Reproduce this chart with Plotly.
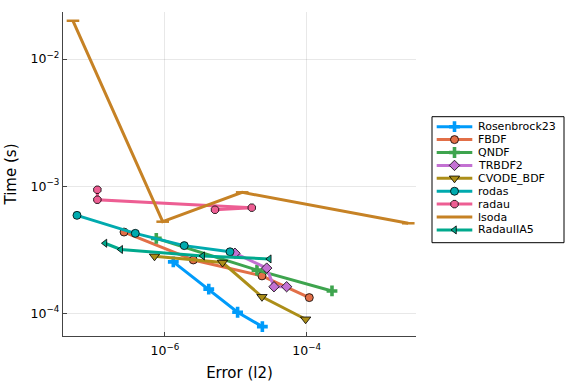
import plotly.graph_objects as go

# ---------------- data ----------------
names = ["Rosenbrock23", "FBDF", "QNDF", "TRBDF2", "CVODE_BDF",
         "rodas", "radau", "lsoda", "RadauIIA5"]

rosenbrock23_err = [1.31e-6, 4.15e-6, 1.06e-5, 2.37e-5]
rosenbrock23_time = [2.54e-4, 1.55e-4, 1.02e-4, 7.86e-5]

fbdf_err = [2.64e-7, 2.51e-6, 2.34e-5, 1.09e-4]
fbdf_time = [4.36e-4, 2.63e-4, 1.97e-4, 1.33e-4]

qndf_err = [7.54e-7, 1.99e-5, 2.28e-4]
qndf_time = [3.89e-4, 2.19e-4, 1.50e-4]

trbdf2_err = [9.73e-6, 2.73e-5, 3.46e-5, 5.22e-5]
trbdf2_time = [2.97e-4, 2.27e-4, 1.62e-4, 1.62e-4]

cvode_err = [7.11e-7, 6.49e-6, 2.34e-5, 9.68e-5]
cvode_time = [2.81e-4, 2.51e-4, 1.35e-4, 8.99e-5]

rodas_err = [5.72e-8, 3.81e-7, 1.87e-6, 8.28e-6]
rodas_time = [5.90e-4, 4.26e-4, 3.41e-4, 3.05e-4]

radau_err = [1.11e-7, 1.11e-7, 1.68e-5, 5.08e-6]
radau_time = [9.38e-4, 7.83e-4, 6.78e-4, 6.53e-4]

lsoda_err = [5.02e-8, 9.28e-7, 1.23e-5, 2.72e-3]
lsoda_time = [2.00e-2, 5.26e-4, 8.95e-4, 5.11e-4]

radauiia5_err = [1.42e-7, 2.37e-7, 3.40e-6, 2.97e-5]
radauiia5_time = [3.56e-4, 3.18e-4, 2.83e-4, 2.68e-4]

x_tick_vals = [1e-6, 1e-4]
x_tick_text = ["10<sup>−6</sup>", "10<sup>−4</sup>"]
y_tick_vals = [1e-4, 1e-3, 1e-2]
y_tick_text = ["10<sup>−4</sup>", "10<sup>−3</sup>", "10<sup>−2</sup>"]

# ---------------- styles ----------------
series = [
    (rosenbrock23_err, rosenbrock23_time, "#009bfa", "cross", 9, False),
    (fbdf_err, fbdf_time, "#e26f47", "circle", 8, True),
    (qndf_err, qndf_time, "#3ea44e", "cross", 9, False),
    (trbdf2_err, trbdf2_time, "#c371d2", "diamond", 8, True),
    (cvode_err, cvode_time, "#ac8e18", "triangle-down", 9, True),
    (rodas_err, rodas_time, "#00aaae", "circle", 8, True),
    (radau_err, radau_time, "#ed5e93", "octagon", 8, True),
    (lsoda_err, lsoda_time, "#c68225", "line-ew", 9, False),
    (radauiia5_err, radauiia5_time, "#00a98d", "triangle-left", 7, True),
]

FONT = "DejaVu Sans"
W, H = 576, 384
px_l, px_r, px_t, px_b = 63, 416, 12, 336
leg_l, leg_r, leg_t, leg_b = 432, 564, 116.7, 242.7

fig = go.Figure()


def marker_spec(color, sym, size, outlined):
    if sym == "line-ew":
        return dict(symbol=sym, size=size, color=color,
                    line=dict(color=color, width=2.5))
    if outlined:
        return dict(symbol=sym, size=size, color=color,
                    line=dict(color="black", width=0.8))
    return dict(symbol=sym, size=size, color=color, line=dict(width=0))


for name, (xs, ys, color, sym, size, outlined) in zip(names, series):
    fig.add_trace(go.Scatter(
        x=xs, y=ys, mode="lines+markers", name=name,
        line=dict(color=color, width=3),
        marker=marker_spec(color, sym, size, outlined),
        showlegend=False, xaxis="x", yaxis="y"))

# manual legend drawn on a hidden helper axis pair
for i, (name, (xs, ys, color, sym, size, outlined)) in enumerate(zip(names, series)):
    fig.add_trace(go.Scatter(
        x=[4.7, 40.3], y=[i, i], mode="lines",
        line=dict(color=color, width=3), showlegend=False,
        hoverinfo="skip", xaxis="x2", yaxis="y2"))
    if sym != "line-ew":
        fig.add_trace(go.Scatter(
            x=[22.5], y=[i], mode="markers",
            marker=marker_spec(color, sym, size, outlined), showlegend=False,
            hoverinfo="skip", xaxis="x2", yaxis="y2"))
    fig.add_annotation(x=44.0, y=i, xref="x2", yref="y2", text=name,
                       showarrow=False, xanchor="left", yanchor="middle",
                       font=dict(family=FONT, size=11, color="black"))

fig.add_shape(type="rect", xref="x2 domain", yref="y2 domain",
              x0=0, x1=1, y0=0, y1=1,
              line=dict(color="black", width=1), fillcolor="rgba(0,0,0,0)")

axis_common = dict(
    type="log", showline=True, linecolor="#444", linewidth=1.2,
    showgrid=True, gridcolor="rgba(0,0,0,0.09)", gridwidth=1,
    ticks="inside", ticklen=4, tickcolor="#444", zeroline=False,
    tickfont=dict(family=FONT, size=12.5, color="black"),
    mirror=False, automargin=False,
)

fig.update_layout(
    width=W, height=H,
    margin=dict(l=0, r=0, t=0, b=0, autoexpand=False),
    paper_bgcolor="white", plot_bgcolor="white",
    showlegend=False,
    xaxis=dict(
        **axis_common,
        domain=[px_l / W, px_r / W],
        range=[-7.44, -2.456],
        tickvals=x_tick_vals, ticktext=x_tick_text,
        ticklabelstandoff=3,
        title=dict(text="Error (l2)", font=dict(family=FONT, size=15, color="black"),
                   standoff=10),
        anchor="y",
    ),
    yaxis=dict(
        **axis_common,
        domain=[(H - px_b) / H, (H - px_t) / H],
        range=[-4.178, -1.630],
        tickvals=y_tick_vals, ticktext=y_tick_text,
        title=dict(text="Time (s)", font=dict(family=FONT, size=15, color="black"),
                   standoff=10),
        anchor="x",
    ),
    xaxis2=dict(domain=[leg_l / W, leg_r / W], range=[0, leg_r - leg_l],
                visible=False, fixedrange=True, anchor="y2", automargin=False),
    yaxis2=dict(domain=[(H - leg_b) / H, (H - leg_t) / H], range=[8.99, -0.775],
                visible=False, fixedrange=True, anchor="x2", automargin=False),
)

fig.write_html("out.html", config={"displayModeBar": False},
               post_script="document.body.style.margin='0';document.body.style.padding='0';")
